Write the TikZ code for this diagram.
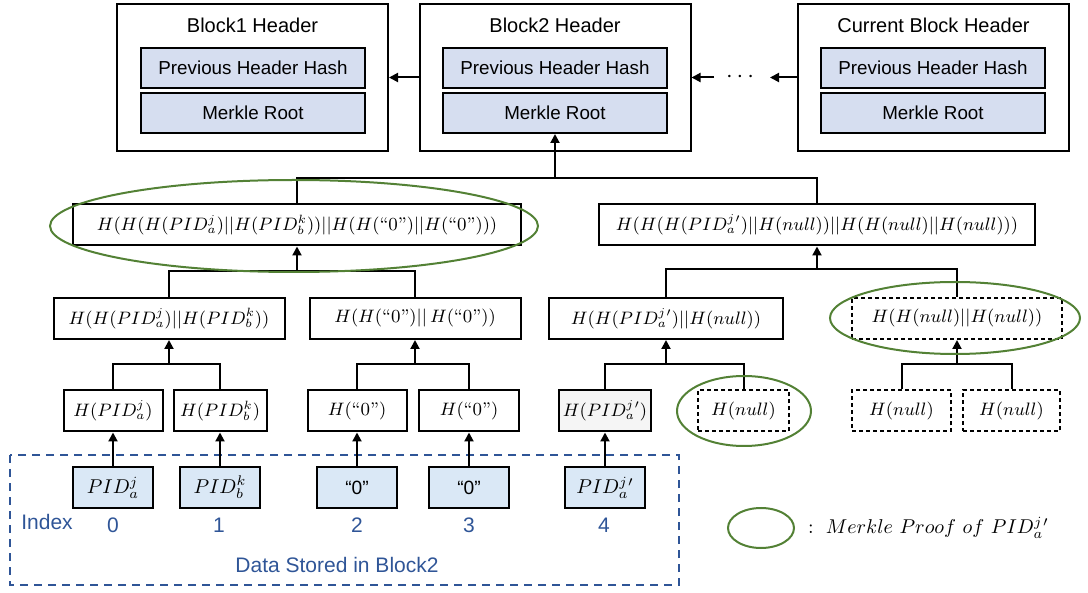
\documentclass[tikz,border=0pt]{standalone}
\usepackage{amsmath}
\usepackage{fontspec}
\usepackage{tikz}
\usetikzlibrary{arrows.meta,shapes.geometric,positioning}

\newfontfamily\arial{Liberation Sans}
\definecolor{hdrfill}{RGB}{214,222,240}
\definecolor{datafill}{RGB}{218,232,246}
\definecolor{idxblue}{RGB}{47,85,151}
\definecolor{proofgreen}{RGB}{83,129,53}
\definecolor{leafgray}{RGB}{245,245,245}

\newcommand{\zq}{\text{“0”}}
\newcommand{\jp}{j\mkern1.5mu\prime}

\begin{document}
\begin{tikzpicture}[x=0.5pt, y=-0.5pt, line width=1pt,
    >={Triangle[length=4.5pt,width=4.5pt]}]
    \tikzstyle{blockhdr} = [draw, minimum width=135.5pt, minimum height=73.5pt,
	inner sep=0pt]
    \tikzstyle{hdrtitle} = [inner sep=0pt, font=\arial\fontsize{10}{12}\selectfont]
    \tikzstyle{field} = [draw, fill=hdrfill, minimum width=112pt, minimum height=20pt,
	inner sep=0pt, font=\arial\fontsize{9.4}{11}\selectfont]
    \tikzstyle{hashbox} = [draw, fill=white, minimum height=20.5pt, inner sep=0pt,
	font=\fontsize{9.2}{11}\selectfont]
    \tikzstyle{nullhash} = [hashbox, dash pattern=on 2pt off 1.5pt]
    \tikzstyle{datum} = [draw, fill=datafill, minimum width=40pt, minimum height=20.5pt,
	inner sep=0pt, font=\fontsize{9.6}{11}\selectfont]
    \tikzstyle{idxlabel} = [text=idxblue, inner sep=0pt, font=\arial\fontsize{10.5}{12}\selectfont]
    \tikzstyle{proof} = [draw=proofgreen, ellipse, inner sep=0pt]

	\useasboundingbox (0,0) rectangle (1088,593);

	% block headers
	\node[blockhdr] (blk1) at (252.5,77.5) {};
	\node[blockhdr] (blk2) at (555,77.5) {};
	\node[blockhdr] (blkc) at (933.5,77.5) {};
	\node[hdrtitle] (t1) at (252.5,25) {Block1 Header};
	\node[hdrtitle] (t2) at (555,25) {Block2 Header};
	\node[hdrtitle] (tc) at (933.5,25) {Current Block Header};
	\node[field] (prev1) at (253,68) {Previous Header Hash};
	\node[field] (root1) at (253,113) {Merkle Root};
	\node[field] (prev2) at (555,68) {Previous Header Hash};
	\node[field] (root2) at (555,113) {Merkle Root};
	\node[field] (prevc) at (933,68) {Previous Header Hash};
	\node[field] (rootc) at (933,113) {Merkle Root};
	\node[minimum width=27pt, inner sep=0pt, font=\large] (dots) at (742,77.5) {$\cdots$};

	\draw[->] (blk2.west) -- (blk1.east);
	\draw[->] (blkc.west) -- (dots.east);
	\draw[->] (dots.west) -- (blk2.east);

	% merkle tree
	\node[hashbox, minimum width=224pt] (L2a) at (297,225)
		{$H(H(H(PID_a^j)||H(PID_b^k))||H(H(\zq)||H(\zq)))$};
	\node[hashbox, minimum width=218pt] (L2b) at (817,225)
		{$H(H(H(PID_a^{\jp})||H(null))||H(H(null)||H(null)))$};

	\node[hashbox, minimum width=115.5pt] (L3a) at (169,318.5)
		{$H(H(PID_a^j)||H(PID_b^k))$};
	\node[hashbox, minimum width=105.5pt] (L3b) at (415,318.5)
		{$H(H(\zq)||\,H(\zq))$};
	\node[hashbox, minimum width=117pt] (L3c) at (666,318.5)
		{$H(H(PID_a^{\jp})||H(null))$};
	\node[nullhash, minimum width=105pt] (L3d) at (957,318.5)
		{$H(H(null)||H(null))$};

	\node[hashbox, minimum width=49.5pt] (lfA) at (113,411) {$H(PID_a^j)$};
	\node[hashbox, minimum width=46.5pt] (lfB) at (220,411) {$H(PID_b^k)$};
	\node[hashbox, minimum width=49.5pt] (lfC) at (357,411) {$H(\zq)$};
	\node[hashbox, minimum width=50pt] (lfD) at (469,411) {$H(\zq)$};
	\node[hashbox, fill=leafgray, minimum width=46pt] (lfE) at (605,411) {$H(PID_a^{\jp})$};
	\node[nullhash, minimum width=45.5pt] (lfF) at (743.5,411) {$H(null)$};
	\node[nullhash, minimum width=49.5pt] (lfG) at (901.5,411) {$H(null)$};
	\node[nullhash, minimum width=48.5pt] (lfH) at (1011.5,411) {$H(null)$};

	\coordinate (jTop) at (555,178);
	\coordinate (jL) at (297,271);
	\coordinate (jR) at (817,269);
	\coordinate (jAB) at (169,364);
	\coordinate (jCD) at (415,364);
	\coordinate (jEF) at (666,364);
	\coordinate (jGH) at (957,364);

	\draw (L2a.north) |- (jTop) -| (L2b.north);
	\draw[->] (jTop) -- (root2.south);
	\draw (L3a.north) |- (jL) -| (L3b.north);
	\draw[->] (jL) -- (L2a.south);
	\draw (L3c.north) |- (jR) -| (L3d.north);
	\draw[->] (jR) -- (L2b.south);
	\draw (lfA.north) |- (jAB) -| (lfB.north);
	\draw[->] (jAB) -- (L3a.south);
	\draw (lfC.north) |- (jCD) -| (lfD.north);
	\draw[->] (jCD) -- (L3b.south);
	\draw (lfE.north) |- (jEF) -| (lfF.north);
	\draw[->] (jEF) -- (L3c.south);
	\draw (lfG.north) |- (jGH) -| (lfH.north);
	\draw[->] (jGH) -- (L3d.south);

	% data stored in block2
	\draw[idxblue, dash pattern=on 4pt off 3pt] (10,455) rectangle (679,585);
	\node[datum] (dA) at (113,487.5) {$PID_a^j$};
	\node[datum] (dB) at (220,487.5) {$PID_b^k$};
	\node[datum] (dC) at (357,487.5) {\arial “0”};
	\node[datum] (dD) at (469,487.5) {\arial “0”};
	\node[datum] (dE) at (605,487.5) {$PID_a^{\jp}$};
	\foreach \d in {A,B,C,D,E}
		\draw[->] (d\d.north) -- (lf\d.south);

	\node[idxlabel] (idx) at (47,522) {Index};
	\node[idxlabel] (i0) at (113,525) {0};
	\node[idxlabel] (i1) at (219,525) {1};
	\node[idxlabel] (i2) at (357,525) {2};
	\node[idxlabel] (i3) at (469,525) {3};
	\node[idxlabel] (i4) at (604,525) {4};
	\node[idxlabel] (store) at (337,565) {Data Stored in Block2};

	% merkle proof
	\node[proof, minimum width=244pt, minimum height=46pt] (prfA) at (294,226) {};
	\node[proof, minimum width=125pt, minimum height=36pt] (prfB) at (955,318) {};
	\node[proof, minimum width=67pt, minimum height=35pt] (prfC) at (744,411) {};
	\node[proof, minimum width=33pt, minimum height=20pt] (lgd) at (761,528) {};
	\node[right=6pt of lgd, inner sep=0pt, font=\fontsize{10}{12}\selectfont] (lgdtxt)
		{$:\ Merkle\ Proof\ of\ PID_a^{\jp}$};
\end{tikzpicture}
\end{document}
